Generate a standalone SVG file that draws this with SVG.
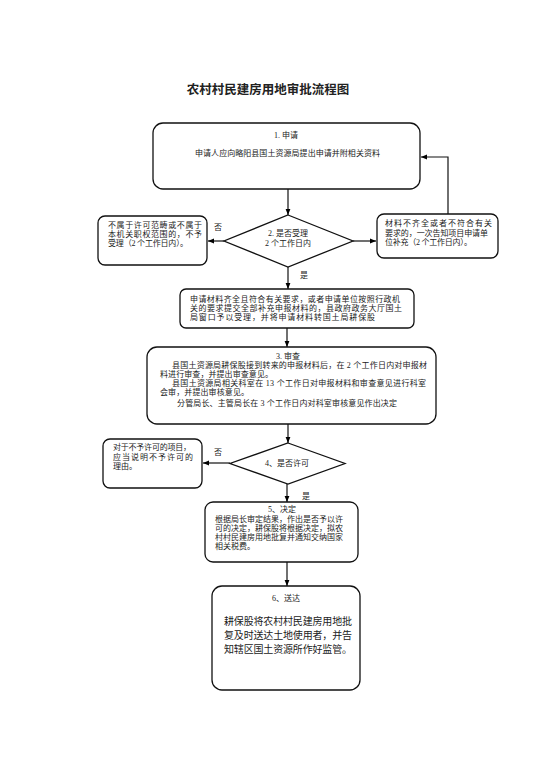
<svg xmlns="http://www.w3.org/2000/svg" width="542" height="768" viewBox="0 0 542 768">
<defs>
<marker id="ah" viewBox="0 0 10 10" refX="10" refY="5" markerWidth="6" markerHeight="6" orient="auto" markerUnits="userSpaceOnUse">
<path d="M0,1 L10,5 L0,9 z" fill="#000"/>
</marker>
<style>
.b{fill:#fff;stroke:#111;stroke-width:1.3}
.c{fill:none;stroke:#111;stroke-width:1.2}
text{font-family:"Liberation Serif","Noto Sans CJK SC",serif;fill:#222}
.t{font-size:8px}
.m{text-anchor:middle}
</style>
</defs>
<rect width="542" height="768" fill="#fff"/>
<text x="268" y="94" class="m" style="font-size:12.5px;font-weight:bold" fill="#000">农村村民建房用地审批流程图</text>

<g id="connectors">
<line class="c" x1="288" y1="189" x2="288" y2="215" marker-end="url(#ah)"/>
<line class="c" x1="224" y1="241" x2="208" y2="241" marker-end="url(#ah)"/>
<line class="c" x1="353" y1="241" x2="376" y2="241" marker-end="url(#ah)"/>
<polyline class="c" points="448,214 448,157 421,157" marker-end="url(#ah)"/>
<line class="c" x1="288" y1="267" x2="288" y2="289" marker-end="url(#ah)"/>
<line class="c" x1="287" y1="328" x2="287" y2="347" marker-end="url(#ah)"/>
<line class="c" x1="288" y1="424" x2="288" y2="443" marker-end="url(#ah)"/>
<line class="c" x1="230" y1="463" x2="203" y2="463" marker-end="url(#ah)"/>
<line class="c" x1="287" y1="484" x2="287" y2="502" marker-end="url(#ah)"/>
<line class="c" x1="287" y1="562" x2="287" y2="586" marker-end="url(#ah)"/>
<text x="218" y="230" class="t m">否</text>
<text x="304" y="278" class="t m">是</text>
<text x="218" y="455" class="t m">否</text>
<text x="306" y="499" class="t m">是</text>
</g>

<g id="n1">
<rect class="b" x="153" y="123" width="267" height="66" rx="10"/>
<text x="286" y="138" class="t m">1. 申请</text>
<text x="195" y="156" class="t" textLength="185">申请人应向略阳县国土资源局提出申请并附相关资料</text>
</g>

<g id="n2">
<polygon class="b" points="288,215 353,241 288,267 224,241"/>
<text x="288" y="236" class="t m">2. 是否受理</text>
<text x="288" y="246" class="t m">2 个工作日内</text>
</g>

<g id="n2no">
<rect class="b" x="98" y="216" width="109" height="49" rx="7"/>
<text x="108" y="228" class="t" textLength="94">不属于许可范畴或不属于</text>
<text x="108" y="237" class="t" textLength="94">本机关职权范围的，不予</text>
<text x="108" y="246" class="t" textLength="80">受理（2 个工作日内）。</text>
</g>

<g id="n2fix">
<rect class="b" x="377" y="214" width="121" height="44" rx="7"/>
<text x="385" y="226" class="t" textLength="107">材料不齐全或者不符合有关</text>
<text x="385" y="236" class="t" textLength="103">要求的，一次告知项目申请单</text>
<text x="385" y="245" class="t" textLength="87">位补充（2 个工作日内）。</text>
</g>

<g id="n2yes">
<rect class="b" x="180" y="289" width="234" height="39" rx="6"/>
<text x="190" y="302" class="t" textLength="210">申请材料齐全且符合有关要求，或者申请单位按照行政机</text>
<text x="190" y="311" class="t" textLength="212">关的要求提交全部补充申报材料的，县政府政务大厅国土</text>
<text x="190" y="320" class="t" textLength="185">局窗口予以受理，并将申请材料转国土局耕保股</text>
</g>

<g id="n3">
<rect class="b" x="147" y="347" width="289" height="77" rx="10"/>
<text x="288" y="359" class="t m">3. 审查</text>
<text x="172" y="368" class="t" textLength="255">县国土资源局耕保股接到转来的申报材料后，在 2 个工作日内对申报材</text>
<text x="160" y="377" class="t" textLength="113">料进行审查，并提出审查意见。</text>
<text x="172" y="386" class="t" textLength="254">县国土资源局相关科室在 13 个工作日对申报材料和审查意见进行科室</text>
<text x="160" y="395" class="t" textLength="89">会审，并提出审核意见。</text>
<text x="177" y="406" class="t" textLength="220">分管局长、主管局长在 3 个工作日内对科室审核意见作出决定</text>
</g>

<g id="n4">
<polygon class="b" points="288,443 345,463.5 288,484 230,463.5"/>
<text x="287" y="466" class="t m">4、是否许可</text>
</g>

<g id="n4no">
<rect class="b" x="103" y="439" width="99" height="49" rx="7"/>
<text x="113" y="450" class="t" textLength="78">对于不予许可的项目，</text>
<text x="113" y="460" class="t" textLength="80">应当说明不予许可的</text>
<text x="113" y="469" class="t">理由。</text>
</g>

<g id="n5">
<rect class="b" x="205" y="502" width="153" height="60" rx="8"/>
<text x="282" y="512" class="t m">5、决定</text>
<text x="215" y="522" class="t" textLength="128">根据局长审定结果，作出是否予以许</text>
<text x="215" y="531" class="t" textLength="128">可的决定，耕保股将根据决定，拟农</text>
<text x="215" y="540" class="t" textLength="128">村村民建房用地批复并通知交纳国家</text>
<text x="215" y="549" class="t">相关税费。</text>
</g>

<g id="n6">
<rect class="b" x="212" y="586" width="148" height="104" rx="10"/>
<text x="286" y="601" class="t m">6、送达</text>
<text x="224" y="625" style="font-size:10px" textLength="128">耕保股将农村村民建房用地批</text>
<text x="224" y="639" style="font-size:10px" textLength="128">复及时送达土地使用者，并告</text>
<text x="224" y="653" style="font-size:10px" textLength="128">知辖区国土资源所作好监管。</text>
</g>
</svg>
